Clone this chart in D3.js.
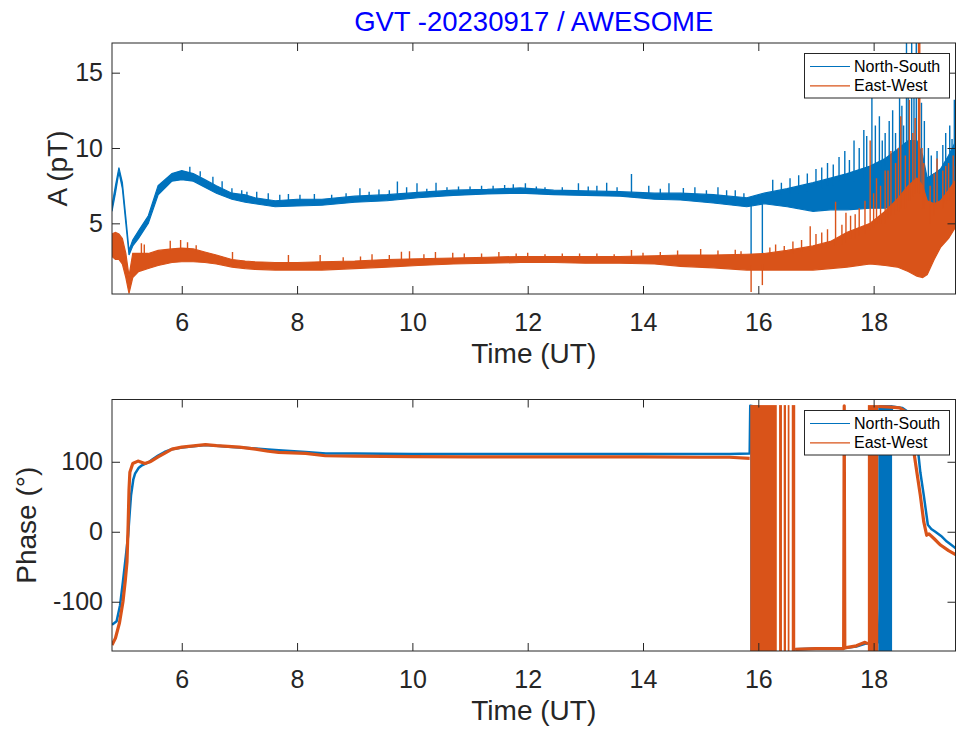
<!DOCTYPE html>
<meta charset="utf-8">
<style>
body { margin: 0; background: #fff; }
svg { font-family: "Liberation Sans", Arial, Helvetica, sans-serif; }
.tick line { stroke: #262626; }
.tick text { fill: #262626; font-size: 25px; }
.box { fill: none; stroke: #262626; stroke-width: 1; }
.lab { fill: #262626; font-size: 28px; }
.leg text { fill: #000; font-size: 16px; }
</style>
<svg width="956" height="729"></svg>
<script src="https://d3js.org/d3.v7.min.js"></script>
<script>

var nsColor = "#0072BD", ewColor = "#D95319";

var ampTime = [4.79, 4.85, 4.91, 4.97, 5.03, 5.085, 5.15, 5.25, 5.42, 5.59, 5.83, 6.0, 6.2, 6.4, 6.6, 6.87, 7.1, 7.27, 7.62, 8.0, 8.43, 9.0, 9.56, 10.1, 10.71, 11.3, 11.87, 12.45, 13.0, 13.6, 14.2, 14.65, 15.22, 15.8, 16.1, 16.5, 16.95, 17.25, 17.54, 17.94, 18.2, 18.41, 18.6, 18.75, 18.85, 18.93, 19.05, 19.16, 19.3, 19.43];
var nsLo = [5.8, 7.0, 8.4, 7.3, 5.0, 2.9, 3.5, 4.0, 5.0, 6.9, 7.8, 7.9, 7.8, 7.4, 7.0, 6.6, 6.4, 6.3, 6.1, 6.15, 6.2, 6.4, 6.5, 6.7, 6.85, 6.95, 7.0, 6.9, 6.85, 6.8, 6.6, 6.55, 6.35, 6.1, 6.3, 6.1, 5.8, 5.9, 5.9, 6.0, 6.0, 6.1, 5.5, 5.2, 4.9, 4.8, 5.2, 5.8, 6.3, 7.3];
var nsHi = [6.2, 7.5, 8.7, 7.7, 5.4, 3.2, 3.9, 4.5, 5.5, 7.5, 8.3, 8.5, 8.3, 7.9, 7.5, 7.0, 6.9, 6.7, 6.5, 6.6, 6.6, 6.8, 6.9, 7.05, 7.2, 7.25, 7.35, 7.2, 7.15, 7.1, 7.0, 7.0, 6.9, 6.7, 7.0, 7.3, 7.7, 8.0, 8.3, 8.8, 9.3, 9.9, 10.5, 10.5, 9.5, 8.0, 8.3, 8.6, 9.5, 10.5];
var ewLo = [2.8, 2.6, 2.6, 2.3, 1.4, 0.35, 1.4, 1.8, 2.0, 2.2, 2.4, 2.45, 2.45, 2.4, 2.3, 2.1, 2.0, 1.95, 1.9, 1.9, 1.9, 2.0, 2.1, 2.2, 2.3, 2.35, 2.4, 2.4, 2.35, 2.35, 2.3, 2.15, 2.05, 1.9, 1.9, 1.9, 1.9, 2.0, 2.1, 2.3, 2.2, 2.1, 1.8, 1.5, 1.4, 1.6, 2.6, 3.4, 4.0, 4.8];
var ewHi = [4.3, 4.4, 4.3, 4.0, 3.0, 1.5, 3.0, 3.0, 3.0, 3.2, 3.3, 3.35, 3.3, 3.1, 2.9, 2.6, 2.5, 2.45, 2.4, 2.4, 2.45, 2.5, 2.6, 2.65, 2.7, 2.75, 2.8, 2.8, 2.8, 2.8, 2.85, 2.9, 2.9, 2.95, 3.0, 3.2, 3.5, 3.8, 4.4, 5.0, 5.8, 6.6, 7.5, 8.0, 7.5, 6.5, 6.3, 6.5, 7.2, 7.9];

// single spikes: [time, from, to]
var nsSpikes = [[6.14, 8.3, 8.76], [6.32, 8.1, 8.45], [6.54, 7.6, 8.1], [6.7, 7.3, 7.8], [6.87, 6.9, 7.33], [7.04, 6.7, 7.2], [7.13, 6.6, 7.1], [7.3, 6.6, 7.1], [7.5, 6.5, 7.0], [7.7, 6.4, 6.9], [7.85, 6.4, 6.95], [8.05, 6.5, 6.9], [8.3, 6.5, 6.95], [8.6, 6.5, 6.9], [8.85, 6.6, 7.0], [9.09, 6.7, 7.33], [9.25, 6.7, 7.1], [9.42, 6.8, 7.25], [9.6, 6.8, 7.2], [9.74, 6.8, 7.77], [9.9, 6.8, 7.4], [10.08, 6.9, 7.66], [10.25, 7.0, 7.3], [10.41, 7.0, 7.7], [10.6, 7.1, 7.4], [10.8, 7.1, 7.45], [11.0, 7.1, 7.45], [11.2, 7.1, 7.5], [11.4, 7.2, 7.5], [11.6, 7.2, 7.55], [11.75, 7.3, 7.6], [11.96, 7.2, 7.66], [12.15, 7.1, 7.45], [12.3, 7.1, 7.4], [12.6, 7.1, 7.4], [12.88, 7.1, 7.66], [13.05, 7.0, 7.45], [13.2, 7.0, 7.5], [13.37, 7.0, 7.7], [13.55, 7.0, 7.4], [13.8, 7.0, 8.28], [14.1, 6.9, 7.5], [14.3, 6.9, 7.3], [14.45, 6.9, 7.66], [14.7, 6.8, 7.35], [14.9, 6.8, 7.4], [15.1, 6.7, 7.2], [15.3, 6.7, 7.4], [15.45, 6.6, 7.2], [15.6, 6.5, 7.2], [15.75, 6.5, 7.0], [15.875, 2.6, 6.4], [16.07, 3.0, 6.6], [16.25, 7.0, 7.9], [16.4, 6.9, 7.7], [16.55, 7.0, 8.0], [16.7, 7.0, 8.2], [16.85, 7.1, 8.3], [17.0, 7.3, 8.6], [17.1, 7.3, 8.7], [17.2, 7.5, 9.0], [17.3, 7.5, 8.9], [17.4, 7.8, 9.4], [17.5, 7.8, 9.8], [17.58, 7.9, 9.2], [17.66, 7.8, 10.5], [17.75, 8.0, 10.0], [17.83, 8.0, 11.2], [17.88, 8.2, 10.8], [17.97, 8.5, 14.5], [18.03, 8.5, 11.5], [18.1, 8.5, 12.1], [18.15, 8.6, 10.5], [18.2, 8.8, 11.0], [18.27, 8.8, 11.8], [18.33, 9.0, 12.5], [18.38, 9.2, 11.0], [18.45, 9.5, 13.3], [18.49, 9.5, 12.8], [18.52, 9.5, 11.5], [18.57, 10, 17.5], [18.6, 9.8, 15.0], [18.66, 10, 17.5], [18.7, 10, 14], [18.74, 10, 17.5], [18.78, 10, 17.5], [18.83, 8.8, 13.0], [18.88, 8.5, 11.8], [18.95, 7.5, 10.0], [19.0, 7.5, 9.5], [19.1, 8.0, 9.8], [19.2, 8.0, 10.2], [19.25, 8.5, 11.0], [19.32, 9.0, 11.5], [19.36, 9.0, 10.6], [19.4, 9.0, 13.2]];
var ewSpikes = [[5.3, 3.0, 3.68], [5.35, 2.9, 3.6], [5.8, 3.2, 3.85], [5.98, 3.3, 3.9], [6.1, 3.2, 3.75], [6.25, 3.1, 3.55], [6.88, 2.5, 3.1], [7.85, 2.3, 2.9], [8.4, 2.3, 2.9], [8.8, 2.3, 2.75], [9.1, 2.4, 2.8], [9.3, 2.4, 2.95], [9.6, 2.5, 2.9], [9.81, 2.5, 3.12], [9.95, 2.5, 3.15], [10.2, 2.6, 2.95], [10.4, 2.6, 3.1], [10.7, 2.6, 3.05], [10.9, 2.6, 3.0], [11.2, 2.65, 3.0], [11.5, 2.7, 3.1], [11.8, 2.7, 3.0], [12.0, 2.7, 3.05], [12.3, 2.7, 2.95], [12.6, 2.7, 3.0], [12.9, 2.7, 3.0], [13.2, 2.7, 3.0], [13.5, 2.7, 2.95], [13.8, 2.7, 3.23], [14.0, 2.7, 3.05], [14.3, 2.7, 3.1], [14.6, 2.7, 3.2], [15.0, 2.8, 3.3], [15.3, 2.8, 3.2], [15.6, 2.8, 3.25], [15.7, 2.8, 3.15], [15.875, 0.45, 2.2], [16.07, 0.9, 2.3], [16.2, 2.9, 3.4], [16.3, 2.9, 3.6], [16.45, 3.0, 3.5], [16.6, 3.0, 3.8], [16.75, 3.1, 3.9], [16.9, 3.2, 4.8], [17.0, 3.3, 4.3], [17.1, 3.3, 4.4], [17.2, 3.4, 4.6], [17.34, 3.5, 6.44], [17.45, 3.6, 4.9], [17.52, 3.7, 5.7], [17.6, 4.0, 5.5], [17.68, 4.0, 5.6], [17.75, 4.2, 6.0], [17.85, 4.3, 6.5], [17.94, 4.5, 10.5], [18.0, 4.7, 7.0], [18.05, 5.0, 8.0], [18.12, 5.0, 7.5], [18.2, 5.0, 8.5], [18.25, 5.3, 8.5], [18.3, 5.5, 9.8], [18.38, 5.6, 9.0], [18.43, 5.8, 10.0], [18.47, 6.0, 12.1], [18.55, 6.0, 9.5], [18.62, 6.5, 13.2], [18.68, 6.8, 11.0], [18.72, 7.0, 12.0], [18.78, 7.0, 17.5], [18.8, 7.0, 17.5], [18.84, 6.0, 10.0], [18.87, 6.0, 9.0], [18.98, 5.0, 7.5], [19.05, 5.5, 8.3], [19.1, 6.0, 9.3], [19.2, 6.0, 8.5], [19.25, 6.3, 8.8], [19.3, 6.5, 9.0], [19.38, 7.0, 9.5], [19.42, 7.0, 8.8]];

// phase (deg), null = gap in the trace
var phNsTime = [4.79, 4.87, 4.93, 4.98, 5.03, 5.07, 5.10, 5.12, 5.16, 5.19, 5.25, 5.31, 5.42, 5.5, 5.59, 5.7, 5.83, 6.0, 6.12, 6.41, 6.6, 6.87, 7.08, 7.28, 7.5, 7.68, 8.15, 8.5, 9, 10, 11, 12, 13, 14, 15, 15.5, 15.85, 15.86, 16.0, 16.3, 16.64, 17.0, 17.5, 17.7, 17.85, 18.08, 18.32, 18.5, 18.62, 18.7, 18.76, 18.81, 18.87, 18.94, 19.0, 19.07, 19.17, 19.27, 19.35, 19.43];
var phNs = [-133, -128, -105, -71, -35, -5, 30, 52, 75, 83, 91, 95, 99, 104, 109, 114, 118, 120.5, 121.5, 124, 123, 121, 120, 119, 117.5, 116.5, 114, 112, 112, 111, 111, 111, 111, 111, 111, 111, 112, 180, 178, null, -168, -167, -166, -164, -160, -158, 179, 177, 170, 150, 124, 85, 52, 10, 4, 0, -6, -14, -19, -24];
var phEwTime = [4.79, 4.85, 4.92, 4.98, 5.02, 5.05, 5.07, 5.085, 5.1, 5.15, 5.24, 5.36, 5.45, 5.59, 5.7, 5.83, 6.0, 6.41, 6.6, 7.0, 7.28, 7.5, 7.68, 8.15, 8.49, 9, 10, 11, 12, 13, 14, 15, 15.5, 15.85, 16.3, 16.64, 17.0, 17.48, 17.49, 17.5, 17.7, 17.85, 17.9, 18.0, 18.08, 18.3, 18.45, 18.55, 18.62, 18.68, 18.75, 18.81, 18.87, 18.92, 18.96, 19.05, 19.16, 19.3, 19.43];
var phEw = [-162, -152, -130, -100, -70, -43, 10, 60, 85, 97.6, 101, 97.6, 100, 107, 112, 118, 121, 124.5, 123, 121, 118, 115, 113.4, 112, 108.6, 108, 107.5, 107, 107, 107, 107, 106.5, 106.5, 105, null, -168, -167, -167, 180, -166, -163, -158, -160, null, 179, 178, 177, 172, 150, 124, 85, 52, 14, -5, -3, -10, -19, -27, -33];

// stretches where the phase wraps so fast that the trace fills the whole range
var nsWrapBlocks = [[15.86, 16.0], [18.08, 18.32]];
var ewWrapBlocks = [[15.86, 16.32], [16.36, 16.41], [16.44, 16.48], [16.51, 16.54], [16.58, 16.64], [17.9, 18.08]];

var xTicks = [6, 8, 10, 12, 14, 16, 18];
var ampTicks = [5, 10, 15];
var phTicks = [-100, 0, 100];
var legendNames = ["North-South", "East-West"];

var svg = d3.select("svg");

var L = 112, R = 955.5;
var x = d3.scaleLinear().domain([4.79, 19.42]).range([L, R]);
var yA = d3.scaleLinear().domain([0.31, 16.97]).range([294, 43]);
var yP = d3.scaleLinear().domain([-170.4, 189]).range([651, 399.5]);

// plain hyphen minus like the original figure
var plain = function(d) { return String(d); };

function zipBand(lo, hi) {
  return ampTime.map(function(t, i) { return {t: t, lo: lo[i], hi: hi[i]}; });
}
function zipLine(ts, vs) {
  return ts.map(function(t, i) { return [t, vs[i]]; });
}

function drawAxes(g, y, yTicks, top, bottom, xlabel, ylabel, ylabX) {
  g.append("g").attr("transform", "translate(0," + bottom + ")")
    .call(d3.axisBottom(x).tickValues(xTicks).tickSize(-8).tickPadding(19.5).tickFormat(plain))
    .call(function(a) { a.select(".domain").remove(); a.selectAll("text").attr("dy", "0.71em"); });
  g.append("g").attr("transform", "translate(0," + top + ")")
    .call(d3.axisTop(x).tickValues(xTicks).tickSize(-8).tickFormat(""))
    .call(function(a) { a.select(".domain").remove(); });
  g.append("g").attr("transform", "translate(" + L + ",0)")
    .call(d3.axisLeft(y).tickValues(yTicks).tickSize(-8).tickPadding(9).tickFormat(plain))
    .call(function(a) { a.select(".domain").remove(); });
  g.append("g").attr("transform", "translate(" + R + ",0)")
    .call(d3.axisRight(y).tickValues(yTicks).tickSize(-8).tickFormat(""))
    .call(function(a) { a.select(".domain").remove(); });
  g.append("rect").attr("class", "box")
    .attr("x", L).attr("y", top).attr("width", R - L).attr("height", bottom - top);
  g.append("text").attr("class", "lab").attr("text-anchor", "middle")
    .attr("x", (L + R) / 2).attr("y", bottom + 69).text(xlabel);
  g.append("text").attr("class", "lab").attr("text-anchor", "middle")
    .attr("transform", "translate(" + ylabX + "," + (top + bottom) / 2 + ") rotate(-90)")
    .text(ylabel);
}

function drawLegend(g, top) {
  var leg = g.append("g").attr("class", "leg");
  leg.append("rect").attr("x", 804.5).attr("y", top).attr("width", 145).attr("height", 44.5)
    .attr("fill", "#fff").attr("stroke", "#262626");
  legendNames.forEach(function(name, i) {
    var cy = top + 13 + i * 19.3;
    leg.append("line").attr("x1", 810).attr("x2", 850).attr("y1", cy).attr("y2", cy)
      .attr("stroke", i ? ewColor : nsColor).attr("stroke-width", 1.2);
    leg.append("text").attr("x", 854).attr("y", cy + 5.6).text(name);
  });
}

var defs = svg.append("defs");
defs.append("clipPath").attr("id", "clipA").append("rect")
  .attr("x", L).attr("y", 43).attr("width", R - L).attr("height", 251);
defs.append("clipPath").attr("id", "clipP").append("rect")
  .attr("x", L).attr("y", 399.5).attr("width", R - L).attr("height", 251.5);

// ---- amplitude panel
var gA = svg.append("g");
var plotA = gA.append("g").attr("clip-path", "url(#clipA)");
var band = d3.area().x(function(d) { return x(d.t); })
  .y0(function(d) { return yA(d.lo); }).y1(function(d) { return yA(d.hi); });

[[nsLo, nsHi, nsSpikes, nsColor], [ewLo, ewHi, ewSpikes, ewColor]].forEach(function(s) {
  plotA.append("path").datum(zipBand(s[0], s[1])).attr("d", band)
    .attr("fill", s[3]).attr("stroke", s[3]).attr("stroke-width", 1.2);
  plotA.selectAll(null).data(s[2]).enter().append("line")
    .attr("x1", function(d) { return x(d[0]); }).attr("x2", function(d) { return x(d[0]); })
    .attr("y1", function(d) { return yA(d[1]); }).attr("y2", function(d) { return yA(d[2]); })
    .attr("stroke", s[3]).attr("stroke-width", 1.4);
});

drawAxes(gA, yA, ampTicks, 43, 294, "Time (UT)", "A (pT)", 67);
drawLegend(gA, 53.5);

svg.append("text").attr("x", (L + R) / 2).attr("y", 31).attr("text-anchor", "middle")
  .attr("fill", "#0000FF").style("font-size", "27.5px").text("GVT -20230917 / AWESOME");

// ---- phase panel
var gP = svg.append("g");
var plotP = gP.append("g").attr("clip-path", "url(#clipP)");
var line = d3.line().defined(function(d) { return d[1] !== null; })
  .x(function(d) { return x(d[0]); }).y(function(d) { return yP(d[1]); });

[[phNsTime, phNs, nsWrapBlocks, nsColor, 2.5], [phEwTime, phEw, ewWrapBlocks, ewColor, 3.2]].forEach(function(s) {
  plotP.append("path").datum(zipLine(s[0], s[1])).attr("d", line)
    .attr("fill", "none").attr("stroke", s[3]).attr("stroke-width", s[4]).attr("stroke-linejoin", "round");
  plotP.selectAll(null).data(s[2]).enter().append("rect")
    .attr("x", function(d) { return x(d[0]); })
    .attr("width", function(d) { return x(d[1]) - x(d[0]); })
    .attr("y", yP(181)).attr("height", yP(-170.4) - yP(181))
    .attr("fill", s[3]);
});

drawAxes(gP, yP, phTicks, 399.5, 651, "Time (UT)", "Phase (\u00B0)", 36);
drawLegend(gP, 410.5);

</script>
